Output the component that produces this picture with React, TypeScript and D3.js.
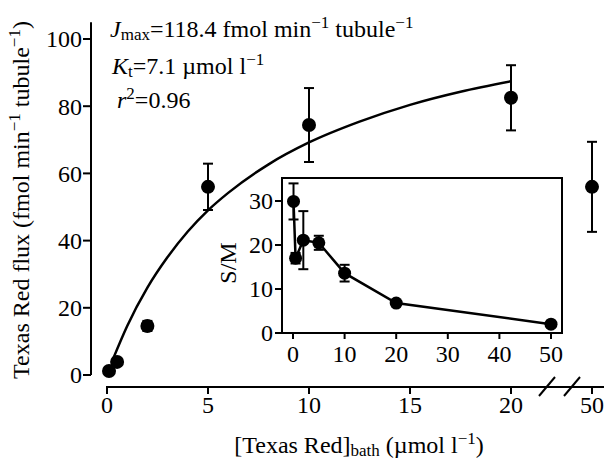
import React from "react";
import * as d3 from "d3";

// main panel: Texas Red flux vs bath concentration
const conc = [0.1, 0.5, 2, 5, 10, 20, 50];
const flux = [1.2, 3.9, 14.6, 56.0, 74.4, 82.5, 56.0];
const fluxErr = [0.4, 0.6, 1.5, 6.9, 11.0, 9.7, 13.4];

// fitted Michaelis-Menten curve
const fitX = [0.3, 1, 2, 3, 4, 5, 6, 8, 10, 12.5, 15, 17.5, 20];
const fitY = [4.8, 14.6, 26.0, 35.1, 42.7, 49.0, 54.2, 62.7, 69.2, 75.4, 80.4, 84.3, 87.4];

const xTicks = [0, 5, 10, 15, 20, 50];
const yTicks = [0, 20, 40, 60, 80, 100];

// inset: S/M ratio
const smConc = [0.1, 0.5, 2, 5, 10, 20, 50];
const smRatio = [29.9, 17.0, 21.1, 20.5, 13.6, 6.8, 2.0];
const smErr = [4.1, 1.2, 6.6, 1.6, 1.9, 0.4, 0.3];
const smXTicks = [0, 10, 20, 30, 40, 50];
const smYTicks = [0, 10, 20, 30];

const FONT = "Liberation Serif";
const FS = 24;
const SUP = 17;

export default function App() {
  const W = 608;
  const H = 461;

  // broken x axis: 0-20 linear, then jump to 50
  const x = d3.scaleLinear().domain([0, 20, 50]).range([107, 511, 592]);
  const y = d3.scaleLinear().domain([0, 100]).range([375, 39]);
  const xAxisY = 387;
  const yAxisX = 91;

  const ix = d3.scaleLinear().domain([0, 50]).range([293, 551]);
  const iy = d3.scaleLinear().domain([0, 30]).range([333, 201]);
  const box = { l: 282, r: 562, t: 178, b: 333 };

  const fitLine = d3
    .line<number>()
    .x((d, i) => x(fitX[i]))
    .y((d) => y(d))
    .curve(d3.curveMonotoneX)(fitY);

  const smLine = d3
    .line<number>()
    .x((d, i) => ix(smConc[i]))
    .y((d) => iy(d))(smRatio);

  const cap = 5;

  return (
    <svg
      width={W}
      height={H}
      style={{ position: "absolute", left: 0, top: 0, background: "#fff", fontFamily: FONT, fontSize: FS }}
    >
      {/* y axis */}
      <line x1={yAxisX} x2={yAxisX} y1={y(0)} y2={y(105)} stroke="#000" strokeWidth={2} />
      {yTicks.map((t) => (
        <g key={"yt" + t}>
          <line x1={yAxisX - 8} x2={yAxisX} y1={y(t)} y2={y(t)} stroke="#000" strokeWidth={2} />
          <text x={yAxisX - 9} y={y(t)} dy="0.35em" textAnchor="end">
            {t}
          </text>
        </g>
      ))}

      {/* x axis with break */}
      <line x1={x(0) - 1} x2={604} y1={xAxisY} y2={xAxisY} stroke="#000" strokeWidth={2} />
      {xTicks.map((t) => (
        <g key={"xt" + t}>
          <line x1={x(t)} x2={x(t)} y1={xAxisY} y2={xAxisY + 7} stroke="#000" strokeWidth={2} />
          <text x={x(t)} y={xAxisY + 18} textAnchor="middle" dy="0.35em">
            {t}
          </text>
        </g>
      ))}
      {[547, 572].map((cx) => (
        <line
          key={"br" + cx}
          x1={cx - 8}
          x2={cx + 8}
          y1={xAxisY + 9}
          y2={xAxisY - 10}
          stroke="#000"
          strokeWidth={2}
        />
      ))}

      {/* fitted curve */}
      <path d={fitLine || ""} fill="none" stroke="#000" strokeWidth={2.5} />

      {/* data points */}
      {conc.map((c, i) => (
        <g key={"p" + i}>
          <line x1={x(c)} x2={x(c)} y1={y(flux[i] - fluxErr[i])} y2={y(flux[i] + fluxErr[i])} stroke="#000" strokeWidth={2} />
          <line x1={x(c) - cap} x2={x(c) + cap} y1={y(flux[i] + fluxErr[i])} y2={y(flux[i] + fluxErr[i])} stroke="#000" strokeWidth={2} />
          <line x1={x(c) - cap} x2={x(c) + cap} y1={y(flux[i] - fluxErr[i])} y2={y(flux[i] - fluxErr[i])} stroke="#000" strokeWidth={2} />
          <circle cx={x(c)} cy={y(flux[i])} r={7} fill="#000" />
        </g>
      ))}

      {/* annotations */}
      <text x={110} y={37}>
        <tspan fontStyle="italic">J</tspan>
        <tspan fontSize={SUP} dy={3}>max</tspan>
        <tspan dy={-3}>=118.4 fmol min</tspan>
        <tspan fontSize={SUP} dy={-9}>−1</tspan>
        <tspan dy={9}> tubule</tspan>
        <tspan fontSize={SUP} dy={-9}>−1</tspan>
      </text>
      <text x={112} y={74}>
        <tspan fontStyle="italic">K</tspan>
        <tspan fontSize={SUP} dy={3}>t</tspan>
        <tspan dy={-3}>=7.1 µmol l</tspan>
        <tspan fontSize={SUP} dy={-9}>−1</tspan>
      </text>
      <text x={117} y={108}>
        <tspan fontStyle="italic">r</tspan>
        <tspan fontSize={SUP} dy={-9}>2</tspan>
        <tspan dy={9}>=0.96</tspan>
      </text>

      {/* axis titles */}
      <text transform="translate(29,200) rotate(-90)" textAnchor="middle">
        <tspan>Texas Red flux (fmol min</tspan>
        <tspan fontSize={SUP} dy={-9}>−1</tspan>
        <tspan dy={9}> tubule</tspan>
        <tspan fontSize={SUP} dy={-9}>−1</tspan>
        <tspan dy={9}>)</tspan>
      </text>
      <text x={359} y={453} textAnchor="middle">
        <tspan>[Texas Red]</tspan>
        <tspan fontSize={SUP} dy={3}>bath</tspan>
        <tspan dy={-3}> (µmol l</tspan>
        <tspan fontSize={SUP} dy={-9}>−1</tspan>
        <tspan dy={9}>)</tspan>
      </text>

      {/* inset */}
      <rect x={box.l} y={box.t} width={box.r - box.l} height={box.b - box.t} fill="#fff" stroke="#000" strokeWidth={2} />
      {smYTicks.map((t) => (
        <g key={"iyt" + t}>
          <line x1={box.l - 7} x2={box.l} y1={iy(t)} y2={iy(t)} stroke="#000" strokeWidth={2} />
          <text x={box.l - 9} y={iy(t)} dy="0.35em" textAnchor="end">
            {t}
          </text>
        </g>
      ))}
      {smXTicks.map((t) => (
        <g key={"ixt" + t}>
          <line x1={ix(t)} x2={ix(t)} y1={box.b} y2={box.b + 6} stroke="#000" strokeWidth={2} />
          <text x={ix(t)} y={box.b + 21} dy="0.35em" textAnchor="middle">
            {t}
          </text>
        </g>
      ))}
      <text transform="translate(236,263) rotate(-90)" textAnchor="middle">
        S/M
      </text>
      <path d={smLine || ""} fill="none" stroke="#000" strokeWidth={2.5} />
      {smConc.map((c, i) => (
        <g key={"ip" + i}>
          <line x1={ix(c)} x2={ix(c)} y1={iy(smRatio[i] - smErr[i])} y2={iy(smRatio[i] + smErr[i])} stroke="#000" strokeWidth={2} />
          <line x1={ix(c) - cap} x2={ix(c) + cap} y1={iy(smRatio[i] + smErr[i])} y2={iy(smRatio[i] + smErr[i])} stroke="#000" strokeWidth={2} />
          <line x1={ix(c) - cap} x2={ix(c) + cap} y1={iy(smRatio[i] - smErr[i])} y2={iy(smRatio[i] - smErr[i])} stroke="#000" strokeWidth={2} />
          <circle cx={ix(c)} cy={iy(smRatio[i])} r={6.5} fill="#000" />
        </g>
      ))}
    </svg>
  );
}
